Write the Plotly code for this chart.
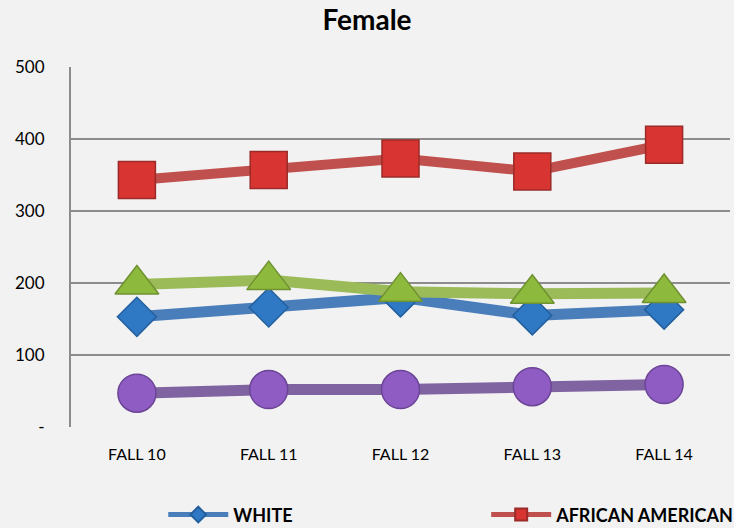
import plotly.graph_objects as go

categories = ["FALL 10", "FALL 11", "FALL 12", "FALL 13", "FALL 14"]
white = [153, 166, 180, 155, 163]
african_american = [343, 357, 373, 355, 392]
hispanic = [198, 204, 188, 185, 186]
asian = [47, 52, 52, 56, 59]
y_ticks = [0, 100, 200, 300, 400, 500]
y_tick_labels = ["-", "100", "200", "300", "400", "500"]

fig = go.Figure()

def add(name, vals, line_color, fill, edge, symbol, size, lw, show, legend="legend"):
    fig.add_trace(go.Scatter(
        x=categories, y=vals, name=name, mode="lines+markers",
        line=dict(color=line_color, width=lw),
        marker=dict(symbol=symbol, size=size, color=fill,
                    line=dict(color=edge, width=1.5)),
        showlegend=show, legend=legend,
    ))

add("<b>WHITE</b>", white, "#4A7EBB", "#2F78C4", "#24609E", "diamond", 30, 11, True, "legend")
add("<b>AFRICAN AMERICAN</b>", african_american, "#C0504D", "#D83431", "#9A2B28", "square", 37, 10, True, "legend2")
add("HISPANIC", hispanic, "#9BBB59", "#8DBA3C", "#6F9130", "triangle-up", 38, 11, False)
add("ASIAN", asian, "#8064A2", "#8F5CC4", "#6B4496", "circle", 38, 11, False)

leg_common = dict(orientation="h", yanchor="middle", y=-0.244, xanchor="left",
                  font=dict(size=18, family="Lato, sans-serif", color="#000000"),
                  itemwidth=60, itemsizing="constant", bgcolor="rgba(0,0,0,0)",
                  borderwidth=0)

fig.update_layout(
    width=734, height=528,
    paper_bgcolor="#F2F2F2", plot_bgcolor="#F2F2F2",
    margin=dict(l=71, r=4, t=67, b=101, autoexpand=False),
    font=dict(family="Lato, Open Sans, sans-serif", color="#000000", size=16),
    title=dict(text="<b>Female</b>", x=0.5, xanchor="center", y=0.962, yanchor="middle",
               font=dict(size=28, family="Lato, sans-serif")),
    showlegend=True,
    legend=dict(x=0.14, **leg_common),
    legend2=dict(x=0.63, **leg_common),
)
fig.update_xaxes(range=[-0.5, 4.5], showgrid=False, showline=False, ticks="",
                 tickfont=dict(size=16), zeroline=False, ticklabelstandoff=16)
fig.update_yaxes(range=[0, 500], tickvals=y_ticks, ticktext=y_tick_labels,
                 showgrid=True, gridcolor="#8C8C8C", gridwidth=2,
                 showline=True, linecolor="#8C8C8C", linewidth=2,
                 zeroline=False, ticks="", ticklabelstandoff=21,
                 tickfont=dict(size=17))
fig.write_html("out.html", post_script="document.body.style.margin='0';",
               config={"displayModeBar": False})
